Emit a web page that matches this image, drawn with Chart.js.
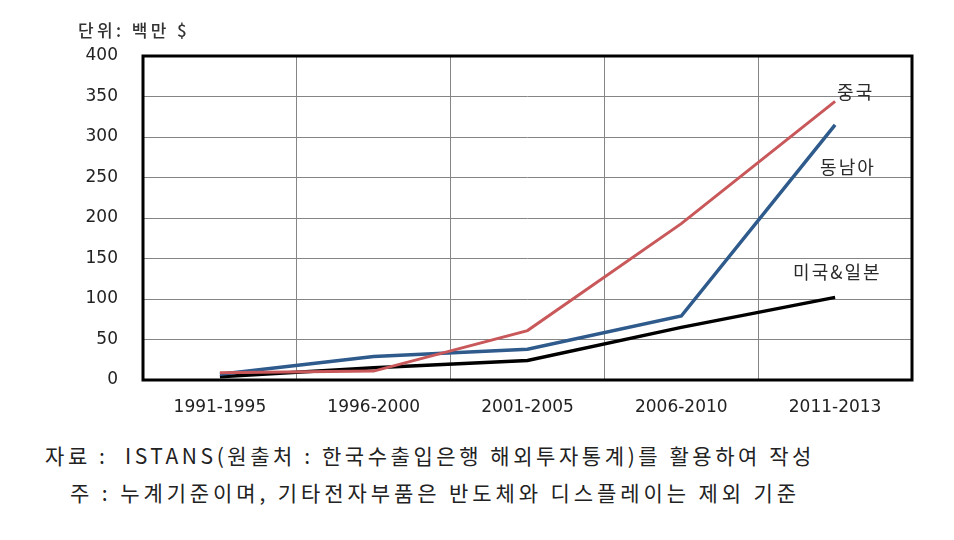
<!DOCTYPE html>
<html><head><meta charset="utf-8">
<script src="https://cdn.jsdelivr.net/npm/chart.js@4.4.0/dist/chart.umd.min.js"></script>
<style>
html,body{margin:0;padding:0;background:#fff;}
#wrap{position:relative;width:954px;height:540px;}
#c{position:absolute;left:0;top:0;}
.fit{position:absolute;white-space:pre;font-family:"Noto Sans CJK KR",sans-serif;}
.unit{left:78px;top:20px;font-size:17px;line-height:20px;color:#333;font-weight:500;}
.note{font-size:21px;line-height:24px;color:#222;}
</style></head>
<body>
<div id="wrap">
<canvas id="c" width="954" height="430"></canvas>
<div class="fit unit" data-w="112">단위: 백만 $</div>
<div class="fit note" data-w="770" style="left:45px;top:443px;">자료 :  ISTANS(원출처 : 한국수출입은행 해외투자통계)를 활용하여 작성</div>
<div class="fit note" data-w="730" style="left:70px;top:480px;">주 : 누계기준이며, 기타전자부품은 반도체와 디스플레이는 제외 기준</div>
</div>
<script>
const categories = ["1991-1995","1996-2000","2001-2005","2006-2010","2011-2013"];
const china = [9, 11, 61, 193, 344];
const seAsia = [7, 29, 38, 79, 315];
const usJapan = [4, 15, 24, 65, 102];
const seriesNames = ["중국","동남아","미국&일본"];
const yTicks = [0,50,100,150,200,250,300,350,400];

// stretch text lines to their measured widths in the reference
document.querySelectorAll('.fit').forEach(el=>{
  const target = +el.dataset.w;
  const n = [...el.textContent].length;
  const w = el.getBoundingClientRect().width;
  el.style.letterSpacing = ((target - w) / n) + 'px';
});

const labelPlugin = {
  id:'lbl',
  afterDatasetsDraw(chart){
    const ctx = chart.ctx, xs = chart.scales.x, ys = chart.scales.y, a = chart.chartArea;
    ctx.save();
    ctx.strokeStyle = '#000'; ctx.lineWidth = 3;
    ctx.strokeRect(a.left, a.top, a.right-a.left, a.bottom-a.top);
    ctx.font = '18px "Noto Sans CJK KR", sans-serif';
    ctx.letterSpacing = '2px';
    ctx.fillStyle = '#2a2a2a'; ctx.textBaseline = 'middle'; ctx.textAlign = 'left';
    const lx = xs.getPixelForValue(categories.length-1);
    ctx.fillText(seriesNames[0], lx + 2, ys.getPixelForValue(china[4]) - 9);
    ctx.fillText(seriesNames[1], lx - 15, ys.getPixelForValue(seAsia[4]) + 42);
    ctx.fillText(seriesNames[2], lx - 42, ys.getPixelForValue(usJapan[4]) - 25);
    ctx.restore();
  }
};

new Chart(document.getElementById('c'), {
  type:'line',
  data:{labels:categories, datasets:[
    {label:seriesNames[0], data:china, borderColor:'#C9585B', borderWidth:3, pointRadius:0, tension:0},
    {label:seriesNames[1], data:seAsia, borderColor:'#2E5A8C', borderWidth:3.5, pointRadius:0, tension:0},
    {label:seriesNames[2], data:usJapan, borderColor:'#000000', borderWidth:3.5, pointRadius:0, tension:0}
  ]},
  options:{
    responsive:false, animation:false,
    layout:{padding:{top:56,right:42,left:0,bottom:0}},
    plugins:{legend:{display:false}, tooltip:{enabled:false}},
    scales:{
      x:{offset:true, grid:{offset:true, color:'#858585', lineWidth:1, drawTicks:false},
         border:{display:false},
         ticks:{color:'#222', font:{family:'"DejaVu Sans", sans-serif', size:17}, padding:17, maxRotation:0},
         afterFit(s){ s.height = 50; }},
      y:{min:0,max:400, grid:{color:'#858585', lineWidth:1, drawTicks:false}, border:{display:false},
         afterBuildTicks(s){ s.ticks = yTicks.map(v=>({value:v})); },
         ticks:{color:'#222', font:{family:'"DejaVu Sans", sans-serif', size:17}, padding:25},
         afterFit(s){ s.width = 143; }}
    }
  },
  plugins:[labelPlugin]
});
</script>
</body></html>
